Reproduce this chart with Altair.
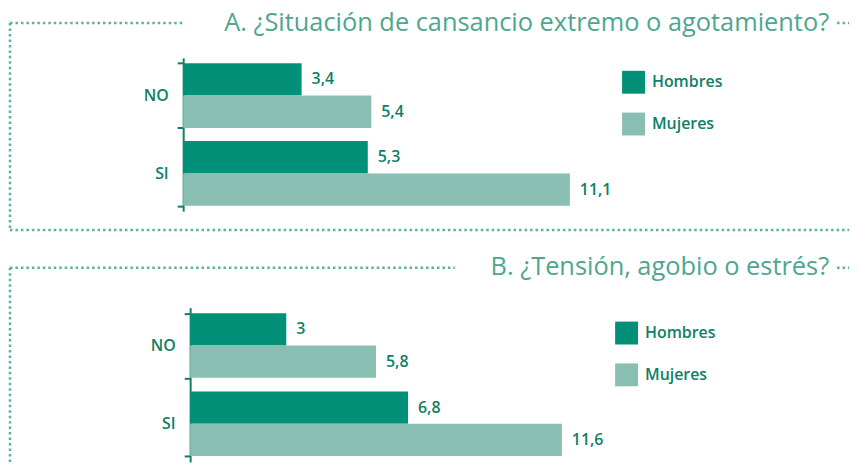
import altair as alt
import pandas as pd

categories = ["NO", "SI"]
genders = ["Hombres", "Mujeres"]
values_a = [[3.4, 5.4], [5.3, 11.1]]  # [cat][gender]
values_b = [[3.0, 5.8], [6.8, 11.6]]
title_a = "A. ¿Situación de cansancio extremo o agotamiento?"
title_b = "B. ¿Tensión, agobio o estrés?"

C_H = "#039079"
C_M = "#89BEB2"
C_TXT = "#0E8068"
C_TITLE = "#4EA690"
C_DOT = "#5AB29E"
FONT = "Open Sans"


def fmt(v):
    return f"{v:g}".replace(".", ",")


def make_df(vals):
    rows = []
    for i, c in enumerate(categories):
        for j, g in enumerate(genders):
            rows.append({"cat": c, "gen": g, "val": vals[i][j], "lab": fmt(vals[i][j])})
    return pd.DataFrame(rows)


def panel(vals, title, height, px_per_unit, shift, legend_xy, title_xy, lines, spacer=None):
    df = make_df(vals)
    y = alt.Y("cat:N", sort=categories,
              scale=alt.Scale(paddingInner=0.17, paddingOuter=0.07),
              axis=alt.Axis(title=None, tickBand="extent", domainColor=C_TXT, domainWidth=2,
                            tickColor=C_TXT, tickWidth=2, tickSize=6, labelPadding=9,
                            offset=-shift,
                            labelFont=FONT, labelFontSize=16, labelFontWeight=600,
                            labelColor=C_TXT, grid=False))
    x = alt.X("val:Q", scale=alt.Scale(domain=[0, 12], nice=False,
                                       range=[shift, shift + 12 * px_per_unit]), axis=None)
    yo = alt.YOffset("gen:N", sort=genders, scale=alt.Scale(paddingInner=0, paddingOuter=0))
    bars = alt.Chart(df).mark_bar().encode(
        x=x, y=y, yOffset=yo,
        color=alt.Color("gen:N", sort=genders,
                        scale=alt.Scale(domain=genders, range=[C_H, C_M]),
                        legend=alt.Legend(title=None, orient="none",
                                          legendX=legend_xy[0], legendY=legend_xy[1],
                                          symbolType="square", symbolSize=529,
                                          symbolStrokeWidth=0, symbolOpacity=1,
                                          labelFont=FONT, labelFontSize=16, labelFontWeight=600,
                                          labelColor=C_TXT, labelOffset=7, rowPadding=19,
                                          padding=0)),
    )
    text = alt.Chart(df).mark_text(align="left", baseline="middle", dx=10, font=FONT,
                                   fontSize=16, fontWeight=600, color=C_TXT).encode(
        x=x, y=y, yOffset=yo, text="lab:N")
    layers = [bars, text]
    for (x1, x2, y1, y2) in lines:
        layers.append(alt.Chart(pd.DataFrame({"a": [0]})).mark_rule(
            color=C_DOT, strokeWidth=2.5, strokeDash=[2.5, 3]).encode(
            x=alt.value(x1), x2=alt.value(x2), y=alt.value(y1), y2=alt.value(y2)))
    if spacer is not None:
        layers.append(alt.Chart(pd.DataFrame({"a": [0]})).mark_rule(
            opacity=0, strokeWidth=0.01).encode(
            x=alt.value(-170), x2=alt.value(-169), y=alt.value(spacer), y2=alt.value(spacer)))
    layers.append(alt.Chart(pd.DataFrame({"t": [title]})).mark_text(
        align="right", baseline="alphabetic", font=FONT, fontSize=25.5, fontWeight=500,
        color=C_TITLE).encode(
        x=alt.value(title_xy[0]), y=alt.value(title_xy[1]), text="t:N"))
    return alt.layer(*layers).properties(width=420, height=height)


# common plot origin ~ x=182 on page; panel A top ~57, panel B top ~307
pa = panel(values_a, title_a, 154, 35.0, 0, (441, 13), (649, -27), [
    (-174, 1, -35, -35),
    (657, 669, -35, -35),
    (-174, -174, -35, 173),
    (-174, 669, 173, 173),
], spacer=-49)
pb = panel(values_b, title_b, 155, 32.2, 7, (434, 14), (649, -33), [
    (-174, 273, -40, -40),
    (657, 669, -40, -40),
    (-174, -174, -40, 158),
])

chart = alt.vconcat(pa, pb, spacing=23).resolve_scale(
    x="independent", y="independent", color="independent"
).resolve_legend(color="independent").properties(
    padding={"top": 0, "left": 0, "right": 0, "bottom": 0}
).configure_view(stroke=None)

chart.save("out.html", embed_options={"renderer": "svg", "actions": False})
